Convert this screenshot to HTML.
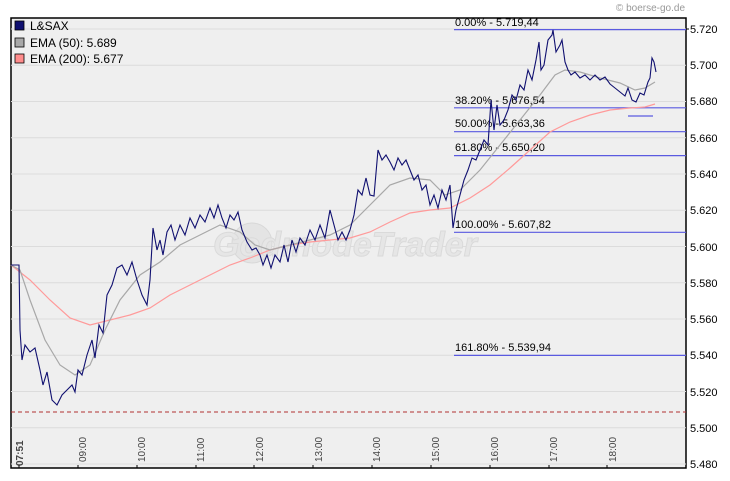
<!DOCTYPE html>
<html><head><style>
body{margin:0;background:#fff;}
svg{display:block;font-family:"Liberation Sans",sans-serif;}
</style></head><body>
<svg width="730" height="481" viewBox="0 0 730 481">
<rect x="11" y="18" width="675" height="450" fill="#efefef" stroke="#000" stroke-width="1.5"/>
<g stroke="#dcdcdc" stroke-width="1">
<line x1="11" x2="686" y1="29" y2="29"/><line x1="11" x2="686" y1="65.3" y2="65.3"/><line x1="11" x2="686" y1="101.5" y2="101.5"/><line x1="11" x2="686" y1="137.8" y2="137.8"/><line x1="11" x2="686" y1="174" y2="174"/><line x1="11" x2="686" y1="210.3" y2="210.3"/><line x1="11" x2="686" y1="246.5" y2="246.5"/><line x1="11" x2="686" y1="282.8" y2="282.8"/><line x1="11" x2="686" y1="319" y2="319"/><line x1="11" x2="686" y1="355.3" y2="355.3"/><line x1="11" x2="686" y1="391.5" y2="391.5"/><line x1="11" x2="686" y1="427.8" y2="427.8"/><line x1="11" x2="686" y1="464" y2="464"/>
</g>
<circle cx="252" cy="243" r="20" fill="#e4e4e4" stroke="#d8d8d8"/>
<text x="345" y="256" font-size="34" font-weight="bold" font-style="italic" fill="#e6e6e6" text-anchor="middle" stroke="#dadada">GodmodeTrader</text>
<line x1="11" x2="686" y1="412" y2="412" stroke="#b03030" stroke-dasharray="4,3"/>
<g stroke="#5a5ae0" stroke-width="1.2">
<line x1="454" x2="686" y1="29.6" y2="29.6"/><line x1="454" x2="686" y1="107.8" y2="107.8"/><line x1="454" x2="686" y1="131.7" y2="131.7"/><line x1="454" x2="686" y1="155.6" y2="155.6"/><line x1="454" x2="686" y1="232.3" y2="232.3"/><line x1="454" x2="686" y1="355.4" y2="355.4"/><line x1="628" x2="653" y1="116" y2="116"/>
</g>
<g font-size="11" fill="#000">
<text x="455" y="26">0.00% - 5.719,44</text><text x="455" y="104">38.20% - 5.676,54</text><text x="455" y="127">50.00% - 5.663,36</text><text x="455" y="151">61.80% - 5.650,20</text><text x="455" y="228">100.00% - 5.607,82</text><text x="455" y="351">161.80% - 5.539,94</text>
</g>
<polyline fill="none" stroke="#ff9a9a" stroke-width="1.2" points="11,265 30,280 50,300 70,318 90,325 110,320 130,315 150,308 170,295 190,285 210,275 230,265 250,258 270,250 290,245 310,242 330,240 350,238 370,232 390,222 410,213 430,210 450,208 470,198 490,185 510,168 530,150 550,132 570,122 590,115 610,110 630,108 645,107 655,104"/>
<polyline fill="none" stroke="#a8a8a8" stroke-width="1.2" points="11,265 20,270 30,300 45,340 60,365 75,375 90,365 105,330 120,300 140,275 160,262 180,245 200,235 220,225 240,232 255,245 270,250 290,245 310,240 330,235 350,225 370,205 390,185 410,178 430,180 445,195 460,190 480,170 500,145 520,120 540,95 555,75 565,70 580,72 600,78 620,83 635,90 645,88 655,82"/>
<polyline fill="none" stroke="#101070" stroke-width="1.1" points="11,265 19,265 20,330 22,360 25,345 30,352 35,348 40,370 43,385 47,372 52,400 57,405 62,395 67,390 72,385 75,392 78,370 82,375 87,355 92,340 95,358 99,325 103,333 107,295 112,285 117,268 122,265 127,275 132,262 137,280 142,295 147,305 150,280 153,228 157,250 160,240 163,255 167,232 171,225 175,240 180,225 185,235 190,218 195,228 200,215 205,222 210,208 214,218 218,205 222,218 226,228 230,215 234,220 238,212 242,230 247,242 252,250 256,248 260,255 263,265 267,255 271,268 275,255 280,262 284,245 288,262 292,240 296,252 300,238 305,245 310,230 315,240 320,225 325,238 330,210 334,225 338,240 342,232 346,240 350,230 354,215 358,190 362,195 366,178 370,195 374,196 378,150 382,160 386,155 390,162 394,170 398,158 402,165 406,160 410,170 414,180 418,175 422,190 426,185 430,205 434,195 438,208 442,190 446,200 450,185 453,228 456,210 460,195 464,180 468,170 472,158 476,160 480,150 484,140 488,145 491,100 494,130 497,105 500,125 504,120 508,110 512,95 516,100 520,85 524,90 528,70 532,80 536,60 539,42 541,70 544,65 548,40 552,35 553,30 556,52 560,45 562,40 565,62 568,70 571,75 575,72 580,78 585,75 590,80 595,75 600,80 605,77 610,84 615,88 620,92 625,96 628,88 632,100 636,102 640,93 644,95 648,82 650,78 652,58 654,62 656,72"/>
<g font-size="12" fill="#000">
<rect x="15" y="21" width="9" height="9" fill="#101070" stroke="#000" stroke-width="0.8"/><text x="30" y="30">L&amp;SAX</text>
<rect x="15" y="38" width="9" height="9" fill="#a8a8a8" stroke="#000" stroke-width="0.8"/><text x="30" y="47">EMA (50): 5.689</text>
<rect x="15" y="54" width="9" height="9" fill="#ff8c8c" stroke="#000" stroke-width="0.8"/><text x="30" y="63">EMA (200): 5.677</text>
</g>
<text x="685" y="11" font-size="10" fill="#999" text-anchor="end">© boerse-go.de</text>
<g font-size="11" fill="#000">
<text x="690" y="33">5.720</text><text x="690" y="69">5.700</text><text x="690" y="105">5.680</text><text x="690" y="142">5.660</text><text x="690" y="178">5.640</text><text x="690" y="214">5.620</text><text x="690" y="251">5.600</text><text x="690" y="287">5.580</text><text x="690" y="323">5.560</text><text x="690" y="359">5.540</text><text x="690" y="396">5.520</text><text x="690" y="432">5.500</text><text x="690" y="468">5.480</text>
</g>
<g stroke="#000"><line x1="686" x2="689" y1="29" y2="29"/></g>
<g font-size="10" fill="#444">
<text transform="translate(23,466) rotate(-90)" font-weight="bold">07:51</text>
<text transform="translate(86,462) rotate(-90)">09:00</text><text transform="translate(145,462) rotate(-90)">10:00</text><text transform="translate(204,462) rotate(-90)">11:00</text><text transform="translate(263,462) rotate(-90)">12:00</text><text transform="translate(322,462) rotate(-90)">13:00</text><text transform="translate(380,462) rotate(-90)">14:00</text><text transform="translate(439,462) rotate(-90)">15:00</text><text transform="translate(498,462) rotate(-90)">16:00</text><text transform="translate(557,462) rotate(-90)">17:00</text><text transform="translate(616,462) rotate(-90)">18:00</text>
</g>
<g stroke="#000"><line x1="19" x2="19" y1="465" y2="468"/><line x1="78" x2="78" y1="465" y2="468"/><line x1="137" x2="137" y1="465" y2="468"/><line x1="196" x2="196" y1="465" y2="468"/><line x1="254" x2="254" y1="465" y2="468"/><line x1="313" x2="313" y1="465" y2="468"/><line x1="372" x2="372" y1="465" y2="468"/><line x1="431" x2="431" y1="465" y2="468"/><line x1="490" x2="490" y1="465" y2="468"/><line x1="549" x2="549" y1="465" y2="468"/><line x1="607" x2="607" y1="465" y2="468"/></g>
</svg>
</body></html>
